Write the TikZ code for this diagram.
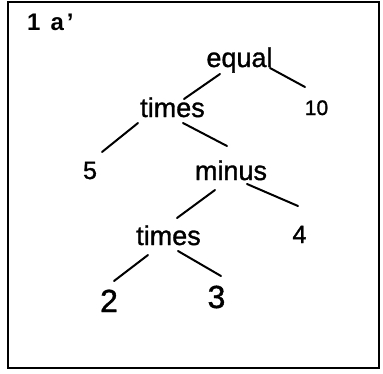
\documentclass[tikz,border=0pt]{standalone}
\usepackage{fontspec}
\setmainfont{Liberation Sans}
\newfontfamily\handfont[FakeBold=1.2]{Liberation Sans}
\begin{document}
\begin{tikzpicture}[x=1pt,y=-1pt,
  lbl/.style={font=\handfont\fontsize{27}{27}\selectfont, inner sep=0pt, anchor=base},
  dig/.style={font=\handfont\fontsize{25}{25}\selectfont, inner sep=0pt, anchor=base},
  small/.style={font=\handfont\fontsize{21}{21}\selectfont, inner sep=0pt, anchor=base},
  big/.style={font=\handfont\fontsize{32}{32}\selectfont, inner sep=0pt, anchor=base},
  edge/.style={line width=2pt, line cap=round}]
\useasboundingbox (0,0) rectangle (383,373);
\draw[line width=1.8pt] (8,2) rectangle (379,368);
\node[font=\fontsize{24}{24}\selectfont\bfseries, anchor=base west, inner sep=0pt] (title) at (27,30) {1\hspace{10pt}a\hspace{3pt}'};
\node[lbl] (equal) at (239.5,67) {equal};
\node[lbl] (times1) at (172.5,117) {times};
\node[small] (ten) at (316.5,115) {10};
\node[dig] (five) at (90,179) {5};
\node[lbl] (minus) at (231,180) {minus};
\node[dig] (four) at (299.5,243) {4};
\node[lbl] (times2) at (168.5,245) {times};
\node[big] (two) at (109,312) {2};
\node[big] (three) at (216.5,308) {3};
\draw[edge] ([shift={(-19.5,7)}]equal.base) -- ([shift={(11.5,-18)}]times1.base);
\draw[edge] ([shift={(30.5,1)}]equal.base) -- ([shift={(-11.5,-28)}]ten.base);
\draw[edge] ([shift={(-34.5,6)}]times1.base) -- ([shift={(12,-27)}]five.base);
\draw[edge] ([shift={(10.5,6)}]times1.base) -- ([shift={(-4,-34)}]minus.base);
\draw[edge] ([shift={(-16,10)}]minus.base) -- ([shift={(8.5,-27)}]times2.base);
\draw[edge] ([shift={(16,4)}]minus.base) -- ([shift={(-1.5,-37)}]four.base);
\draw[edge] ([shift={(-20.5,10)}]times2.base) -- ([shift={(5,-31)}]two.base);
\draw[edge] ([shift={(9.5,6)}]times2.base) -- ([shift={(4.5,-32)}]three.base);
\end{tikzpicture}
\end{document}
